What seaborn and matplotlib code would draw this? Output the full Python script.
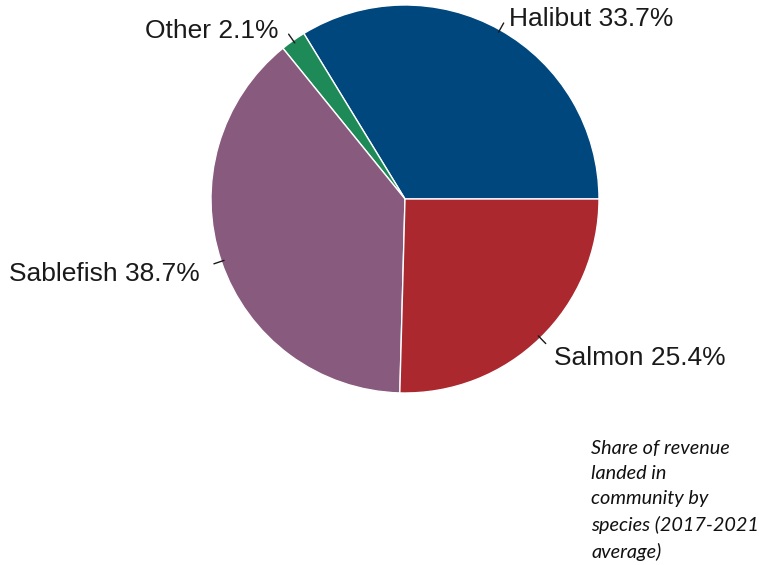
import numpy as np
import matplotlib
matplotlib.use("Agg")
import matplotlib.pyplot as plt
import seaborn as sns

species = ["Halibut", "Other", "Sablefish", "Salmon"]
shares = [33.7, 2.1, 38.7, 25.4]
colors = ["#00477E", "#1D8A58", "#875A7E", "#AA282E"]
caption = "Share of revenue\nlanded in\ncommunity by\nspecies (2017-2021\naverage)"

sns.set_theme(style="white")
plt.rcParams["font.family"] = ["Liberation Sans", "DejaVu Sans"]

W, H = 759, 565
fig = plt.figure(figsize=(W / 100, H / 100), dpi=100)
ax = fig.add_axes([0, 0, 1, 1])

cx, cy, r = 405, H - 199, 194
labels = [f"{s} {v:.1f}%" for s, v in zip(species, shares)]
wedges, texts = ax.pie(
    shares, labels=labels, colors=colors, startangle=0, counterclock=True,
    center=(cx, cy), radius=r, labeldistance=1.1, frame=True,
    wedgeprops=dict(edgecolor="white", linewidth=1.0),
    textprops=dict(fontsize=19, color="#1a1a1a"),
)
ax.set_xlim(0, W)
ax.set_ylim(0, H)
ax.set_aspect("equal")
ax.axis("off")

for w, t in zip(wedges, texts):
    ang = np.deg2rad((w.theta1 + w.theta2) / 2)
    # align each label away from the pie and sit it a little lower
    x, y = t.get_position()
    left = np.cos(ang) > 0
    t.set_ha("left" if left else "right")
    t.set_position((x if left else x - 3, y - 6))
    # short leader tick at the wedge's mid-angle
    r0, r1 = r * 0.985, r * 1.04
    ax.plot([cx + r0 * np.cos(ang), cx + r1 * np.cos(ang)],
            [cy + r0 * np.sin(ang), cy + r1 * np.sin(ang)],
            color="#1a1a1a", lw=1.0)

fig.text(591 / W, 1 - 440 / H, caption, ha="left", va="top",
         fontsize=14.3, style="italic", family=["Lato", "DejaVu Sans"],
         color="#111111", linespacing=1.58)

fig.savefig("out.png", dpi=100, facecolor="white")
